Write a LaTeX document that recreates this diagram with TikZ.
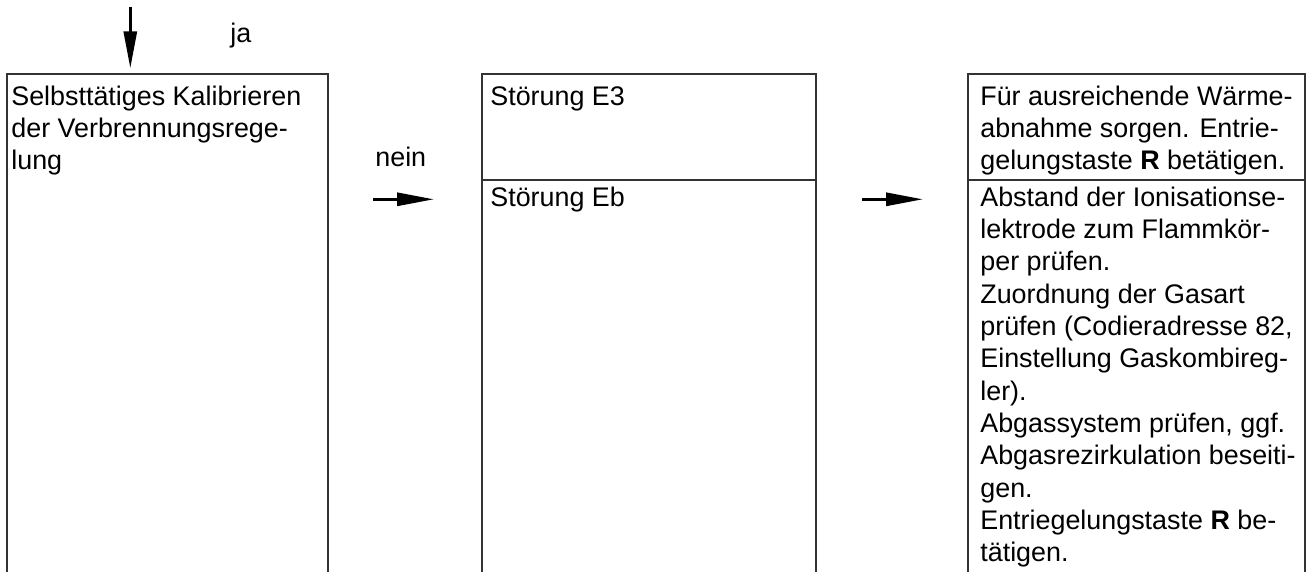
\documentclass[tikz,border=0pt]{standalone}
\usepackage{fontspec}
\setmainfont{Liberation Sans}
\usetikzlibrary{arrows.meta}
\newcommand{\boxfont}{\fontsize{15.3}{18.4}\selectfont}

\begin{document}
\begin{tikzpicture}[
  rahmen/.style={line width=0.7pt, draw=black!80},
  txt/.style={anchor=north west, align=left, inner sep=0pt, font=\boxfont},
  pfeil/.style={line width=1.7pt, -{Triangle[length=0.74cm,width=0.26cm]}}
]
  \useasboundingbox (0,0) rectangle (26.18,-11.44);
  % Spalten, unten offen
  \draw[rahmen] (0.14,-11.44) -- (0.14,-1.48) -- (6.56,-1.48) -- (6.56,-11.44);
  \draw[rahmen] (9.64,-11.44) -- (9.64,-1.48) -- (16.32,-1.48) -- (16.32,-11.44);
  \draw[rahmen] (9.64,-3.6) -- (16.32,-3.6);
  \draw[rahmen] (19.36,-11.44) -- (19.36,-1.48) -- (26.10,-1.48) -- (26.10,-11.44);
  \draw[rahmen] (19.36,-3.6) -- (26.10,-3.6);
  % Texte (\strut: erste Grundlinie 0.454cm unter der Oberkante)
  \node[txt] (kal) at (0.22,-1.646) {\strut Selbsttätiges Kalibrieren\\der Verbrennungsrege-\\lung};
  \node[txt] (e3) at (9.8,-1.646) {\strut Störung E3};
  \node[txt] (eb) at (9.8,-3.666) {\strut Störung Eb};
  \node[txt] (waerme) at (19.6,-1.646) {\strut Für ausreichende Wärme-\\abnahme sorgen. Entrie-\\gelungstaste \textbf{R} betätigen.};
  \node[txt] (abstand) at (19.6,-3.666) {\strut Abstand der Ionisationse-\\lektrode zum Flammkör-\\per prüfen.\\Zuordnung der Gasart\\prüfen (Codieradresse 82,\\Einstellung Gaskombireg-\\ler).\\Abgassystem prüfen, ggf.\\Abgasrezirkulation beseiti-\\gen.\\Entriegelungstaste \textbf{R} be-\\tätigen.};
  \node[txt, anchor=base west] (ja) at (4.6,-0.86) {ja};
  \node[txt, anchor=base west] (nein) at (7.5,-3.34) {nein};
  % Pfeile
  \coordinate (oben) at (2.606,-0.134);
  \coordinate (ein) at (2.606,-1.366);
  \coordinate (neinA) at (7.46,-3.986);
  \coordinate (neinB) at (8.68,-3.986);
  \coordinate (ebA) at (17.24,-3.986);
  \coordinate (ebB) at (18.46,-3.986);
  \draw[pfeil] (oben) -- (ein);
  \draw[pfeil] (neinA) -- (neinB);
  \draw[pfeil] (ebA) -- (ebB);
\end{tikzpicture}
\end{document}
